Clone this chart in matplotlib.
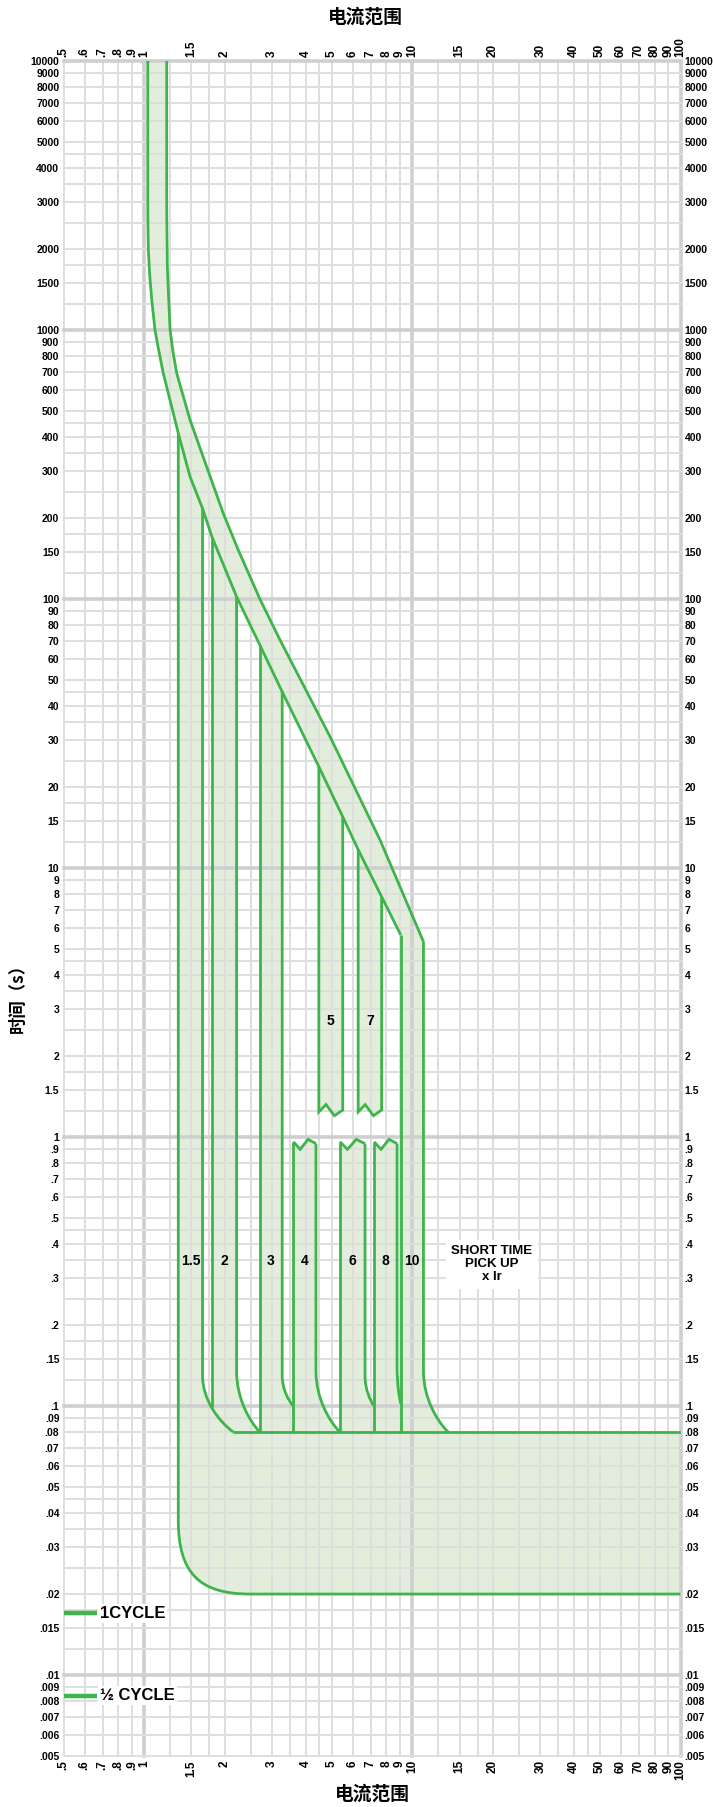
import numpy as np
import matplotlib
matplotlib.use("Agg")
import matplotlib.pyplot as plt
from matplotlib.path import Path
from matplotlib.patches import PathPatch
from matplotlib.ticker import NullLocator

plt.rcParams['font.family'] = ['Liberation Sans Narrow', 'Liberation Sans', 'DejaVu Sans']
plt.rcParams['font.weight'] = 'bold'
SANS = ['Liberation Sans', 'DejaVu Sans']
CJK = ['Noto Sans CJK SC', 'DejaVu Sans']

GREEN = '#3db54a'
FILL = '#e2eedb'
GRID = '#dedede'
GRID_MAJOR = '#cfcfcf'

# long-time band (x = multiples of Ir, t = seconds)
lt_lo_x = [1.031, 1.031, 1.032, 1.036, 1.048, 1.067, 1.097, 1.13, 1.178, 1.284, 1.34,
           1.482, 1.65, 1.79, 2.21, 2.70, 3.27, 4.48, 5.50, 6.28, 7.68, 9.05]
lt_lo_t = [10000, 3044, 2500, 1983, 1600, 1293, 1000, 850, 690, 490, 413,
           285, 217, 170, 102, 67.4, 45.2, 23.8, 15.5, 11.7, 7.82, 5.64]
lt_hi_x = [1.213, 1.213, 1.215, 1.22, 1.232, 1.249, 1.28, 1.322, 1.482, 1.710, 1.972,
           2.243, 2.70, 3.21, 4.93, 7.58, 11.0]
lt_hi_t = [10000, 3044, 2400, 1719, 1350, 1000, 830, 690, 463, 310, 208,
           152, 100, 70.4, 30.8, 12.7, 5.32]

# short time pick-up settings
band_names = ['1.5', '2', '3', '4', '5', '6', '7', '8', '10']
band_lo = [1.34, 1.79, 2.70, 3.60, 4.48, 5.37, 6.28, 7.20, 9.05]
band_hi = [1.65, 2.21, 3.27, 4.37, 5.50, 6.66, 7.68, 8.77, 11.0]
top_lo = [413, 170, 67.4, None, 23.8, None, 11.7, None, 5.64]
top_hi = [217, 102, 45.2, None, 15.5, None, 7.82, None, 5.32]
knee_t = [0.13, 0.135, 0.13, 0.135, None, 0.13, None, 0.14, 0.135]
knee_x = [2.15, 2.70, 3.60, 5.37, None, 7.20, None, 9.05, 13.6]
knee_end = [0.08, 0.08, 0.10, 0.08, None, 0.10, None, 0.102, 0.08]
lo_end = [0.08, 0.099, 0.08, 0.08, None, 0.08, None, 0.08, 0.08]
label_t = [0.347, 0.347, 0.347, 0.347, 2.7, 0.347, 2.7, 0.347, 0.347]

floor_t = 0.08
floor_x0 = 2.15
env_t = 0.02
env_knee_t = 0.0377
env_corner = [(1.34, 0.024), (1.6, 0.02), (2.48, 0.02)]

zig_f = [0, 0.3, 0.65, 1]
zig_top = [0.96, 0.90, 0.98, 0.945]
zig_bot = [1.24, 1.32, 1.20, 1.26]

cycle_names = ['1CYCLE', '½ CYCLE']
cycle_t = [0.017, 0.00837]

x_grid = [.5, .6, .7, .8, .9, 1, 1.25, 1.5, 1.75, 2, 2.5, 3, 3.5, 4, 4.5, 5, 6, 7, 8, 9,
          10, 12.5, 15, 17.5, 20, 25, 30, 35, 40, 45, 50, 60, 70, 80, 90, 100]
x_ticks = [.5, .6, .7, .8, .9, 1, 1.5, 2, 3, 4, 5, 6, 7, 8, 9, 10, 15, 20, 30, 40, 50,
           60, 70, 80, 90, 100]
y_mant = [1, 1.25, 1.5, 1.75, 2, 2.5, 3, 3.5, 4, 4.5, 5, 6, 7, 8, 9]
y_tick_mant = [1, 1.5, 2, 3, 4, 5, 6, 7, 8, 9]


def lab(v):
    return f"{v:g}".lstrip('0')


def knee(x0, t0, x1, t1):
    # vertical start, bending towards the delay floor (shape in log space)
    lx0, lt0, lx1, lt1 = np.log10([x0, t0, x1, t1])
    c1 = (x0, 10 ** (lt0 + 0.45 * (lt1 - lt0)))
    c2 = (10 ** (lx0 + 0.55 * (lx1 - lx0)), 10 ** (lt0 + 0.82 * (lt1 - lt0)))
    return [c1, c2, (x1, t1)]


def mkpath(segs, close=False):
    v, c = [], []
    for kind, pts in segs:
        for p in pts:
            v.append(p)
            if not c:
                c.append(Path.MOVETO)
            else:
                c.append(Path.CURVE4 if kind == 'C' else Path.LINETO)
    if close:
        v.append(v[0])
        c.append(Path.CLOSEPOLY)
    return Path(v, c)


fig = plt.figure(figsize=(7.13, 18.07), dpi=100)
ax = fig.add_axes([63.5 / 713, 51 / 1807, 617 / 713, 1695 / 1807])
ax.set_xscale('log')
ax.set_yscale('log')


def fill(segs):
    ax.add_patch(PathPatch(mkpath(segs, True), fc=FILL, ec='none', lw=0, zorder=1))


def line(segs, lw=2.0):
    ax.add_patch(PathPatch(mkpath(segs), fill=False, ec=GREEN, lw=lw, zorder=3,
                           joinstyle='miter'))


# long-time band
lt_lo = list(zip(lt_lo_x, lt_lo_t))
lt_hi = list(zip(lt_hi_x, lt_hi_t))
fill([('L', lt_lo + lt_hi[::-1])])
line([('L', lt_lo)])
line([('L', lt_hi)])

# envelope bottom (1.5 setting lower edge) and floor
fill([('L', [(band_lo[0], floor_t), (band_lo[0], env_knee_t)]), ('C', env_corner),
      ('L', [(100, env_t), (100, floor_t)])])
line([('L', [(band_lo[0], top_lo[0]), (band_lo[0], env_knee_t)]), ('C', env_corner),
      ('L', [(100, env_t)])])
line([('L', [(floor_x0, floor_t), (100, floor_t)])])

for i, name in enumerate(band_names):
    xl, xr = band_lo[i], band_hi[i]
    zx = [xl * (xr / xl) ** f for f in zig_f]
    if knee_t[i] is None:
        bot = list(zip(zx, zig_bot))
        pts = [(xl, top_lo[i])] + bot + [(xr, top_hi[i])]
        fill([('L', pts)])
        line([('L', pts)])
    else:
        k = knee(xr, knee_t[i], knee_x[i], knee_end[i])
        back = [k[1], k[0], (xr, knee_t[i])]
        if top_lo[i] is None:
            top = list(zip(zx, zig_top))
            left_top, right_top = top[0], top[-1]
        else:
            top = None
            left_top, right_top = (xl, top_lo[i]), (xr, top_hi[i])
        seg = [('L', [left_top, (xl, floor_t), (knee_x[i], floor_t), (knee_x[i], knee_end[i])]),
               ('C', back), ('L', [right_top])]
        if top:
            seg.append(('L', [top[2], top[1]]))
        fill(seg)
        if i > 0:
            line([('L', [left_top, (xl, lo_end[i])])])
        line([('L', [right_top, (xr, knee_t[i])]), ('C', k)])
        if top:
            line([('L', top)])
    ax.text(np.sqrt(xl * xr), label_t[i], name, family=SANS, fontsize=10,
            ha='center', va='center', zorder=4)

ax.text(19.8, 0.337, 'SHORT TIME\nPICK UP\nx Ir', family=SANS, fontsize=9.5,
        ha='center', va='center', linespacing=1.1, zorder=4,
        bbox=dict(fc='white', ec='none', pad=4))

# cycle markers
for name, t in zip(cycle_names, cycle_t):
    ax.plot([0.5, 0.668], [t, t], color=GREEN, lw=3.2, solid_capstyle='butt',
            clip_on=False, zorder=4)
    ax.text(0.684, t, name, family=SANS, fontsize=12, ha='left', va='center', zorder=4,
            bbox=dict(fc='white', ec='none', pad=1.5))

# grid
for v in x_grid:
    major = v in (1, 10, 100)
    ax.axvline(v, color=GRID_MAJOR if major else GRID, lw=2.6 if major else 1.4,
               zorder=1.5, clip_on=False)
y_grid = [m * 10.0 ** e for e in range(-3, 4) for m in y_mant] + [10000]
y_grid = [v for v in y_grid if 0.0049 < v < 10001]
for v in y_grid:
    major = abs(np.log10(v) - round(np.log10(v))) < 1e-9
    ax.axhline(v, color=GRID_MAJOR if major else GRID, lw=2.6 if major else 1.4,
               zorder=1.5, clip_on=False)

for s in ax.spines.values():
    s.set_visible(False)

ax.set_xlim(0.5, 100)
ax.set_ylim(0.005, 10000)

ax.set_xticks(x_ticks)
ax.set_xticklabels([lab(v) for v in x_ticks])
ax.xaxis.set_minor_locator(NullLocator())
ax.tick_params(axis='x', which='both', length=0, top=True, labeltop=True,
               labelrotation=90, labelsize=8.5, pad=3)

y_ticks = [m * 10.0 ** e for e in range(-3, 4) for m in y_tick_mant] + [10000]
y_ticks = [v for v in y_ticks if 0.0049 < v < 10001]
ax.set_yticks(y_ticks)
ax.set_yticklabels([lab(v) for v in y_ticks])
ax.yaxis.set_minor_locator(NullLocator())
ax.tick_params(axis='y', which='both', length=0, right=True, labelright=True,
               labelsize=7.5, pad=3)

fig.text(365 / 713, 1 - 17 / 1807, '电流范围', family=CJK, fontsize=13.5, weight='bold',
         ha='center', va='center')
fig.text(372 / 713, 1 - 1794 / 1807, '电流范围', family=CJK, fontsize=13.5, weight='bold',
         ha='center', va='center')
fig.text(18 / 713, 1 - 994 / 1807, '时间（s）', family=CJK, fontsize=12.5, weight='bold',
         rotation=90, ha='center', va='center')

fig.savefig('out.png', dpi=100)
